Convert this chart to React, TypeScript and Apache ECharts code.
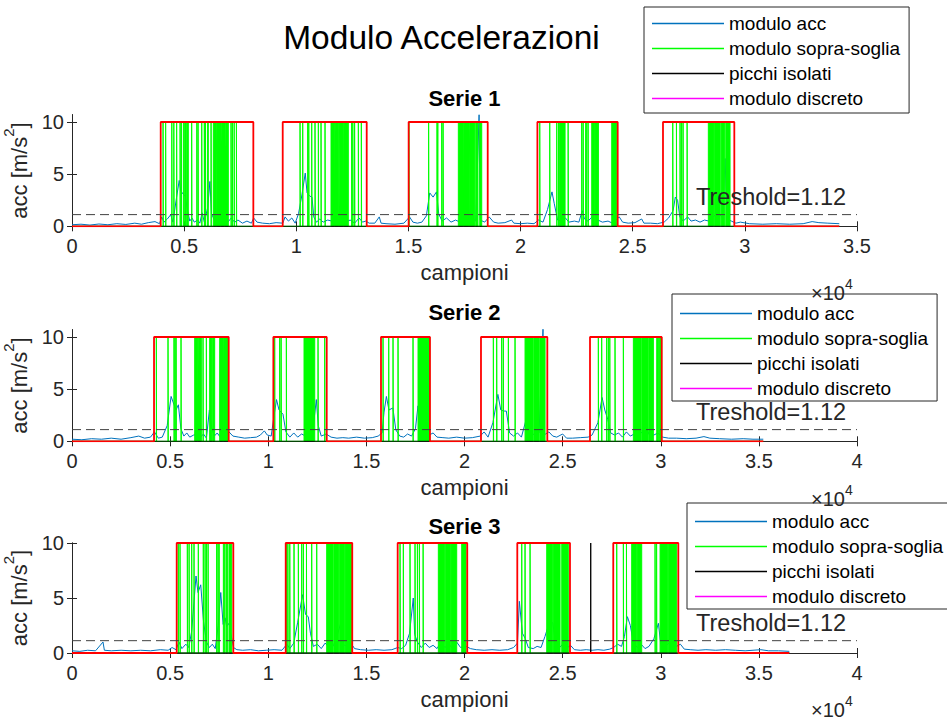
import React, { useEffect, useRef } from 'react';
import * as echarts from 'echarts';

const FONT = '"Liberation Sans", Arial, Helvetica, sans-serif';

const MAIN_TITLE = 'Modulo Accelerazioni';
const SUBPLOT_TITLES = ['Serie 1', 'Serie 2', 'Serie 3'];
const LEGEND_NAMES = ['modulo acc', 'modulo sopra-soglia', 'picchi isolati', 'modulo discreto'];
const X_NAME = 'campioni';
const THRESHOLD = 1.12;
const THRESHOLD_LABEL = 'Treshold=1.12';
const HIGH_LEVEL = 10;
const X_MAX = [35000, 40000, 40000];
const Y_MAX = [10.7, 10.7, 10];
const X_INTERVAL = 5000;
const Y_INTERVAL = 5;
const Y_TICKS = [0, 5, 10];
const X_SCALE = 10000;
const DATA_END = [34210, 35225, 36550];

// modulo acc (blue) – hand-read samples [campione, acc]
const ACC1: [number, number][] = [
  [0, 0.15], [400, 0.2], [800, 0.12], [1200, 0.22], [1600, 0.15], [2000, 0.25], [2400, 0.18], [2800, 0.3], [3100, 0.2],
  [3400, 0.35], [3700, 0.45], [3900, 0.25], [4000, 0.9], [4100, 0.4], [4250, 0.7], [4400, 1.1], [4500, 0.4], [4650, 2.6],
  [4780, 4.4], [4850, 3.4], [4950, 3.1], [5050, 2.9], [5150, 1.5], [5250, 0.5], [5350, 0.8], [5450, 0.4], [5600, 0.6],
  [5700, 0.3], [5800, 1.3], [5900, 0.4], [6050, 1.8], [6150, 4.3], [6220, 1.2], [6350, 0.6], [6500, 0.9], [6650, 0.5],
  [6800, 0.7], [6950, 0.4], [7100, 0.8], [7250, 0.4], [7400, 0.6], [7600, 0.3], [7800, 0.5], [8000, 0.3], [8100, 0.8],
  [8250, 0.4], [8500, 0.3], [8800, 0.25], [9100, 0.35], [9400, 0.3], [9500, 0.9], [9650, 0.5], [9800, 0.8], [9950, 0.3],
  [10100, 1.2], [10250, 3.0], [10400, 5.1], [10480, 3.2], [10600, 2.9], [10700, 2.8], [10780, 0.9], [10900, 0.4],
  [11050, 0.7], [11200, 0.4], [11400, 0.6], [11600, 0.5], [11750, 1.7], [11850, 0.6], [12000, 0.8], [12200, 0.4],
  [12400, 0.6], [12600, 0.3], [12800, 0.8], [12950, 0.4], [13100, 0.5], [13250, 0.3], [13500, 0.3], [13700, 0.9],
  [13780, 0.3], [14000, 0.25], [14400, 0.2], [14800, 0.3], [15050, 0.9], [15200, 0.4], [15400, 0.3], [15600, 0.4],
  [15800, 1.0], [15950, 3.2], [16100, 2.8], [16250, 3.3], [16350, 1.2], [16500, 0.5], [16700, 0.8], [16900, 0.4],
  [17100, 0.6], [17300, 0.4], [17450, 1.6], [17600, 0.7], [17800, 0.9], [18000, 0.5], [18150, 10.7], [18200, 0.6],
  [18400, 0.4], [18600, 0.9], [18800, 0.4], [19000, 0.3], [19300, 0.35], [19600, 0.6], [19700, 0.3], [20000, 0.25],
  [20300, 0.3], [20600, 0.25], [20800, 0.6], [21000, 0.4], [21200, 1.6], [21400, 3.3], [21500, 2.2], [21650, 0.6],
  [21800, 0.5], [22000, 0.8], [22150, 0.4], [22400, 0.5], [22600, 0.4], [22750, 1.5], [22850, 0.7], [23000, 0.5],
  [23150, 0.8], [23300, 1.5], [23450, 0.6], [23650, 0.4], [23900, 0.5], [24100, 0.3], [24400, 0.9], [24550, 0.4],
  [24800, 0.3], [25100, 0.35], [25400, 0.7], [25500, 0.3], [25800, 0.3], [26100, 0.25], [26400, 0.4], [26600, 0.8],
  [26800, 1.5], [26900, 2.8], [27000, 2.5], [27100, 0.9], [27250, 0.5], [27450, 0.9], [27600, 0.5], [27800, 0.6],
  [28000, 0.4], [28200, 0.6], [28400, 0.5], [28600, 0.9], [28800, 1.4], [29000, 0.8], [29120, 6.5], [29200, 0.7],
  [29400, 0.5], [29600, 0.3], [29800, 0.4], [30200, 0.25], [30800, 0.2], [31400, 0.25], [32000, 0.2], [32600, 0.25],
  [33000, 0.45], [33300, 0.35], [33700, 0.3], [34210, 0.25],
];

const ACC2: [number, number][] = [
  [0, 0.2], [500, 0.15], [1000, 0.25], [1500, 0.2], [2000, 0.3], [2500, 0.2], [3000, 0.35], [3400, 0.5], [3700, 0.3],
  [4000, 0.4], [4200, 0.9], [4400, 0.3], [4600, 0.4], [4850, 1.5], [5050, 4.3], [5200, 3.5], [5300, 3.0], [5420, 3.5],
  [5550, 1.2], [5700, 0.5], [5850, 0.8], [6000, 0.4], [6200, 0.6], [6400, 0.7], [6550, 0.4], [6700, 0.7], [6850, 0.3],
  [7000, 3.0], [7100, 1.4], [7250, 0.5], [7400, 0.8], [7550, 0.4], [7800, 0.5], [8000, 0.9], [8200, 0.5], [8500, 0.4],
  [8800, 0.3], [9100, 0.35], [9400, 0.4], [9600, 0.6], [9800, 1.0], [9950, 0.6], [10150, 0.5], [10300, 2.5],
  [10420, 4.0], [10550, 3.0], [10750, 2.6], [10900, 0.9], [11100, 0.4], [11300, 0.8], [11500, 0.4], [11700, 0.7],
  [11900, 0.5], [12100, 0.6], [12300, 1.5], [12450, 4.0], [12550, 1.5], [12700, 0.5], [12950, 0.7], [13200, 0.4],
  [13500, 0.3], [13800, 0.35], [14100, 0.3], [14500, 0.4], [14900, 0.3], [15300, 0.35], [15600, 0.5], [15800, 0.8],
  [15900, 2.8], [16020, 4.3], [16150, 3.0], [16350, 3.2], [16500, 1.1], [16700, 0.5], [16900, 0.4], [17100, 0.7],
  [17300, 0.5], [17500, 1.2], [17630, 3.4], [17750, 1.0], [17950, 0.5], [18200, 0.6], [18400, 0.8], [18600, 0.4],
  [18900, 0.35], [19200, 0.3], [19600, 0.4], [20000, 0.3], [20400, 0.35], [20800, 0.5], [21000, 0.9], [21200, 0.4],
  [21450, 1.8], [21700, 4.5], [21850, 3.0], [22000, 2.9], [22130, 2.9], [22300, 0.8], [22500, 0.5], [22700, 0.8],
  [22900, 0.4], [23100, 1.8], [23240, 3.2], [23400, 0.9], [23600, 0.5], [23800, 0.8], [24000, 10.8], [24050, 0.6],
  [24300, 0.9], [24500, 0.5], [24700, 0.4], [25000, 0.7], [25200, 0.3], [25500, 0.3], [25900, 0.35], [26300, 0.4],
  [26500, 0.6], [26800, 1.8], [27010, 4.2], [27150, 3.0], [27300, 2.1], [27450, 0.8], [27650, 0.6], [27850, 0.8],
  [28050, 0.4], [28250, 0.9], [28450, 0.5], [28650, 0.7], [28850, 0.5], [29050, 0.9], [29250, 1.3], [29450, 0.5],
  [29650, 0.6], [29850, 0.8], [30100, 0.4], [30400, 0.3], [30800, 0.3], [31300, 0.25], [31800, 0.3], [32200, 0.45],
  [32500, 0.3], [33000, 0.25], [33600, 0.2], [34200, 0.25], [34700, 0.2], [35225, 0.2],
];

const ACC3: [number, number][] = [
  [0, 0.2], [400, 0.15], [800, 0.25], [1200, 0.2], [1580, 1.0], [1650, 0.25], [2000, 0.2], [2500, 0.25], [3000, 0.2],
  [3500, 0.25], [4000, 0.2], [4500, 0.3], [4900, 0.25], [5100, 0.5], [5300, 0.3], [5450, 1.0], [5600, 0.4], [5800, 0.8],
  [5950, 0.5], [6100, 2.0], [6320, 7.0], [6420, 5.5], [6560, 6.2], [6700, 2.9], [6850, 1.0], [7000, 0.5], [7150, 0.8],
  [7300, 0.4], [7450, 2.5], [7580, 5.5], [7700, 2.6], [7800, 3.2], [7880, 2.4], [8000, 2.7], [8100, 1.7], [8230, 0.5],
  [8400, 0.3], [8700, 0.25], [9100, 0.3], [9500, 0.2], [9900, 0.25], [10300, 0.3], [10700, 0.25], [10950, 0.8],
  [11100, 0.4], [11300, 0.9], [11500, 2.8], [11750, 5.3], [11900, 3.5], [12040, 3.3], [12150, 1.8], [12300, 0.6],
  [12500, 0.8], [12700, 0.4], [12900, 0.9], [13100, 0.5], [13300, 0.6], [13500, 1.5], [13690, 2.7], [13800, 0.8],
  [14000, 0.6], [14250, 0.8], [14400, 0.4], [14700, 0.3], [15100, 0.25], [15500, 0.3], [15900, 0.25], [16300, 0.3],
  [16600, 0.5], [16800, 0.4], [17000, 0.7], [17200, 1.8], [17390, 5.0], [17460, 1.7], [17600, 1.0], [17800, 0.5],
  [18000, 0.9], [18200, 0.5], [18400, 0.7], [18600, 0.4], [18800, 1.0], [19000, 0.5], [19200, 0.8], [19400, 0.4],
  [19600, 1.0], [19800, 0.5], [20100, 0.6], [20300, 0.4], [20600, 0.3], [21000, 0.25], [21400, 0.3], [21800, 0.25],
  [22200, 0.3], [22500, 0.5], [22700, 0.9], [22795, 4.7], [22950, 1.8], [23100, 1.3], [23250, 0.5], [23500, 0.4],
  [23700, 0.6], [23900, 0.5], [24100, 1.5], [24360, 3.0], [24500, 2.7], [24650, 0.8], [24850, 0.5], [25050, 0.9],
  [25250, 0.5], [25400, 0.7], [25600, 0.3], [25900, 0.25], [26200, 0.3], [26500, 0.25], [26800, 0.3], [27100, 0.25],
  [27400, 0.35], [27600, 0.5], [27800, 0.8], [28000, 0.6], [28150, 1.5], [28300, 3.3], [28450, 2.5], [28600, 1.0],
  [28800, 0.5], [29000, 0.8], [29200, 0.4], [29400, 0.6], [29650, 1.3], [29880, 2.7], [30000, 0.8], [30200, 0.5],
  [30400, 0.9], [30600, 0.4], [30800, 0.6], [31000, 0.8], [31200, 0.35], [31500, 0.3], [31900, 0.25], [32300, 0.3],
  [32800, 0.25], [33300, 0.3], [33800, 0.25], [34300, 0.2], [35100, 0.3], [35500, 0.2], [36000, 0.2], [36550, 0.15],
];

// modulo discreto (red blocks) – [start, end] campioni
const BLOCKS1: [number, number][] = [[3955, 8085], [9395, 13140], [15010, 18535], [20750, 24330], [26350, 29530]];
const BLOCKS2: [number, number][] = [[4180, 7985], [10260, 12980], [15745, 18240], [20840, 24220], [26395, 30050]];
const BLOCKS3: [number, number][] = [[5335, 8220], [10890, 14280], [16595, 20140], [22690, 25375], [27580, 30895]];

// modulo sopra-soglia (green) – [start, end] of above-threshold runs
const GREEN1: [number, number][] = [
  [4060, 4072], [4175, 4187], [4450, 4462], [4540, 4552], [4665, 4677], [4820, 4832], [4875, 4887], [4965, 5010],
  [5060, 5100], [5150, 5186], [5335, 5347], [5565, 5577], [5620, 5632], [5785, 5797], [5900, 5912], [5950, 5962],
  [6040, 6078], [6200, 6212], [6301, 6420], [6450, 6620], [6650, 6800], [6830, 6970], [7090, 7102], [7150, 7162],
  [7230, 7242], [7330, 7342],
  [10167, 10179], [10286, 10298], [10509, 10521], [10556, 10568], [10688, 10700], [10835, 10847], [10984, 10996],
  [11103, 11115], [11281, 11293], [11549, 11700], [11730, 11900], [11930, 12100], [12130, 12320], [12470, 12482],
  [12520, 12532], [12600, 12612], [12767, 12779], [12900, 12912],
  [15020, 15032], [15900, 15912], [16275, 16287], [16310, 16322], [16485, 16497], [16545, 16557], [17225, 17450],
  [17480, 17700], [17730, 17950], [18000, 18100], [18180, 18268],
  [20855, 20867], [21300, 21312], [21613, 21625], [21690, 21702], [21740, 21984], [22120, 22132], [22727, 22739],
  [22790, 22802], [22900, 22950], [23010, 23022], [23173, 23300], [23340, 23470], [24065, 24289],
  [26785, 26797], [26950, 26962], [27111, 27123], [27180, 27192], [27246, 27258], [27425, 27437], [28372, 28600],
  [28640, 28900], [28940, 29100], [29150, 29340],
];
const GREEN2: [number, number][] = [
  [4297, 4309], [4892, 4904], [5198, 5210], [5250, 5262], [5304, 5316], [5555, 5567], [6252, 6400], [6430, 6591],
  [6676, 6688], [6846, 6858], [7015, 7130], [7170, 7270], [7525, 7700], [7730, 7950],
  [10328, 10340], [10583, 10595], [10656, 10668], [10922, 10934], [11823, 12368], [12536, 12548], [12876, 12888],
  [15849, 15861], [16138, 16150], [16358, 16370], [16613, 16625], [17377, 17389], [17632, 18228],
  [21470, 21482], [21640, 21652], [21895, 21907], [21980, 21992], [22235, 22247], [22575, 22587], [23085, 23500],
  [23540, 23800], [23840, 24104],
  [26820, 26832], [26990, 27002], [27245, 27257], [27330, 27342], [27403, 27415], [27670, 27682], [28095, 28107],
  [28605, 29000], [29040, 29350], [29390, 29624], [29795, 29880], [29930, 30050],
];
const GREEN3: [number, number][] = [
  [5417, 5429], [5504, 5516], [5877, 5889], [5967, 5979], [6100, 6112], [6217, 6229], [6437, 6449], [6691, 6703],
  [6780, 6792], [6850, 6862], [6934, 6946], [7372, 7384], [7440, 7452], [7496, 7508], [7712, 7790], [7850, 7930],
  [8000, 8137],
  [10941, 10953], [11000, 11012], [11097, 11109], [11313, 11325], [11534, 11546], [11704, 11716], [11790, 11802],
  [11947, 11959], [12214, 12226], [12469, 12481], [12978, 13300], [13340, 13600], [13640, 13900], [13940, 14253],
  [16715, 16727], [16883, 16895], [17223, 17235], [17479, 17491], [17600, 17612], [17700, 17712], [17891, 17903],
  [18667, 19000], [19040, 19300], [19340, 19603], [19858, 20078],
  [22917, 22929], [23085, 23097], [23340, 23352], [24190, 24500], [24540, 24870], [24955, 25290],
  [27756, 27768], [28095, 28107], [28253, 28265], [28520, 28780], [28820, 29030], [29710, 29722], [29788, 29800],
  [29965, 30350], [30400, 30815],
];

// picchi isolati (black) – isolated peak positions
const PEAKS1: number[] = [];
const PEAKS2: number[] = [];
const PEAKS3: number[] = [26432];

const ACC = [ACC1, ACC2, ACC3];
const BLOCKS = [BLOCKS1, BLOCKS2, BLOCKS3];
const GREENS = [GREEN1, GREEN2, GREEN3];
const PEAKS = [PEAKS1, PEAKS2, PEAKS3];

function stepData(intervals: [number, number][], end: number): number[][] {
  const pts: number[][] = [[0, 0]];
  intervals.forEach(([a, b]) => {
    pts.push([a, 0], [a, HIGH_LEVEL], [b, HIGH_LEVEL], [b, 0]);
  });
  pts.push([end, 0]);
  return pts;
}
function spikeData(xs: number[], end: number): number[][] {
  const pts: number[][] = [[0, 0]];
  xs.forEach((x) => pts.push([x, 0], [x, HIGH_LEVEL], [x, 0]));
  pts.push([end, 0]);
  return pts;
}

const GRIDS = [
  { top: 114.7, height: 111.6 },
  { top: 329.7, height: 111.6 },
  { top: 543, height: 110 },
];
const GRID_LEFT = 72;
const GRID_WIDTH = 785;
const LEGENDS = [
  { left: 644, top: 7, padding: [4, 9, 2, 8] },
  { left: 672, top: 294, padding: [7, 9, 0, 8] },
  { left: 687, top: 503, padding: [6, 9, 0, 8] },
];
const TITLE_Y = [98, 312, 526];
const THRESH_TEXT_Y = [197, 412, 623];
const EXP_Y = [290, 496, 707];

const AXIS_COLOR = '#262626';

export default function App() {
  const ref = useRef<HTMLDivElement>(null);
  useEffect(() => {
    if (!ref.current) return;
    const chart = echarts.init(ref.current, undefined, { renderer: 'svg' });

    const grid: any[] = [];
    const xAxis: any[] = [];
    const yAxis: any[] = [];
    const series: any[] = [];
    const legend: any[] = [];
    const graphic: any[] = [];

    const axisLine = { show: true, lineStyle: { color: AXIS_COLOR, width: 1 } };
    const axisTick = { show: true, inside: true, length: 5, lineStyle: { color: AXIS_COLOR, width: 1 } };
    const yTick = { ...axisTick, customValues: Y_TICKS };

    for (let i = 0; i < 3; i++) {
      grid.push({
        left: GRID_LEFT, top: GRIDS[i].top, width: GRID_WIDTH, height: GRIDS[i].height,
        containLabel: false, outerBoundsMode: 'none',
      });
      xAxis.push({
        type: 'value', gridIndex: i, position: 'bottom', min: 0, max: X_MAX[i], interval: X_INTERVAL,
        axisLine, axisTick, splitLine: { show: false },
        axisLabel: {
          fontSize: 20, color: AXIS_COLOR, fontFamily: FONT, margin: 10,
          formatter: (v: number) => String(+(v / X_SCALE).toFixed(2)),
        },
        name: X_NAME, nameLocation: 'middle', nameGap: 35,
        nameTextStyle: { fontSize: 22, color: AXIS_COLOR, fontFamily: FONT },
      });
      xAxis.push({
        type: 'value', gridIndex: i, position: 'top', min: 0, max: X_MAX[i], interval: X_INTERVAL,
        axisLine, axisTick, splitLine: { show: false }, axisLabel: { show: false },
      });
      yAxis.push({
        type: 'value', gridIndex: i, position: 'left', min: 0, max: Y_MAX[i], interval: Y_INTERVAL,
        axisLine, axisTick: yTick, splitLine: { show: false },
        axisLabel: {
          fontSize: 20, color: AXIS_COLOR, fontFamily: FONT, margin: 8, customValues: Y_TICKS,
          formatter: (v: number) => String(v),
        },
        name: '{b|acc [m/s}{s|2}{b|]}', nameLocation: 'middle', nameGap: 30,
        nameTextStyle: {
          color: AXIS_COLOR, fontFamily: FONT,
          rich: {
            b: { fontSize: 22, lineHeight: 30, verticalAlign: 'bottom', color: AXIS_COLOR, fontFamily: FONT },
            s: { fontSize: 15, lineHeight: 15, verticalAlign: 'top', color: AXIS_COLOR, fontFamily: FONT },
          },
        },
      });
      yAxis.push({
        type: 'value', gridIndex: i, position: 'right', min: 0, max: Y_MAX[i], interval: Y_INTERVAL,
        axisLine, axisTick: yTick, splitLine: { show: false }, axisLabel: { show: false },
      });

      const xi = 2 * i;
      const yi = 2 * i;
      const common = {
        type: 'line', xAxisIndex: xi, yAxisIndex: yi, showSymbol: false, symbol: 'none',
        animation: false, silent: true,
      };
      series.push({
        ...common, name: LEGEND_NAMES[0], data: ACC[i], color: '#0072BD',
        lineStyle: { color: '#0072BD', width: 1 }, z: 2,
      });
      series.push({
        ...common, name: LEGEND_NAMES[1], data: stepData(GREENS[i], DATA_END[i]), color: '#00FF00',
        lineStyle: { color: '#00FF00', width: 1 }, areaStyle: { color: '#00FF00', opacity: 1 }, z: 3,
      });
      series.push({
        ...common, name: LEGEND_NAMES[2], data: spikeData(PEAKS[i], DATA_END[i]), color: '#000000',
        lineStyle: { color: '#000000', width: 1 }, z: 4,
      });
      series.push({
        ...common, name: LEGEND_NAMES[3], data: [], color: '#FF00FF',
        lineStyle: { color: '#FF00FF', width: 1 }, z: 4,
      });
      series.push({
        ...common, name: 'blocchi', data: stepData(BLOCKS[i], DATA_END[i]), color: '#FF0000',
        lineStyle: { color: '#FF0000', width: 1.8 }, z: 5,
      });
      series.push({
        ...common, name: 'soglia', data: [[0, THRESHOLD], [X_MAX[i], THRESHOLD]], color: '#404040',
        lineStyle: { color: '#404040', width: 1, type: [9, 5] }, z: 6,
      });

      legend.push({
        show: true, orient: 'vertical', left: LEGENDS[i].left, top: LEGENDS[i].top, padding: LEGENDS[i].padding,
        data: LEGEND_NAMES, icon: 'rect', itemWidth: 72, itemHeight: 1.6, itemGap: 0,
        backgroundColor: '#ffffff', borderColor: AXIS_COLOR, borderWidth: 1, borderRadius: 0,
        selectedMode: false, z: 20,
        textStyle: { fontSize: 19, lineHeight: 25, color: '#000000', fontFamily: FONT },
      });

      graphic.push({
        type: 'text', x: GRID_LEFT + GRID_WIDTH / 2, y: TITLE_Y[i], z: 30,
        style: {
          text: SUBPLOT_TITLES[i], fontSize: 22, fontWeight: 'bold', fill: '#000', fontFamily: FONT,
          align: 'center', verticalAlign: 'middle',
        },
      });
      graphic.push({
        type: 'text', x: 696, y: THRESH_TEXT_Y[i], z: 30,
        style: {
          text: THRESHOLD_LABEL, fontSize: 23.5, fill: '#262626', fontFamily: FONT,
          align: 'left', verticalAlign: 'middle',
        },
      });
      graphic.push({
        type: 'text', x: 811, y: EXP_Y[i], z: 30,
        style: {
          text: '{b|×10}{s|4}', fill: AXIS_COLOR, fontFamily: FONT, align: 'left', verticalAlign: 'middle',
          rich: {
            b: { fontSize: 20, lineHeight: 26, verticalAlign: 'bottom', fill: AXIS_COLOR, fontFamily: FONT },
            s: { fontSize: 14, lineHeight: 14, verticalAlign: 'top', fill: AXIS_COLOR, fontFamily: FONT },
          },
        },
      });
    }

    graphic.push({
      type: 'text', x: 441.5, y: 37, z: 30,
      style: {
        text: MAIN_TITLE, fontSize: 33.5, fill: '#000', fontFamily: FONT, align: 'center', verticalAlign: 'middle',
      },
    });

    chart.setOption({
      animation: false,
      backgroundColor: '#ffffff',
      grid, xAxis, yAxis, series, legend, graphic,
    });
    return () => chart.dispose();
  }, []);

  return (
    <div
      ref={ref}
      style={{ position: 'absolute', left: 0, top: 0, width: 947, height: 720, background: '#fff' }}
    />
  );
}
